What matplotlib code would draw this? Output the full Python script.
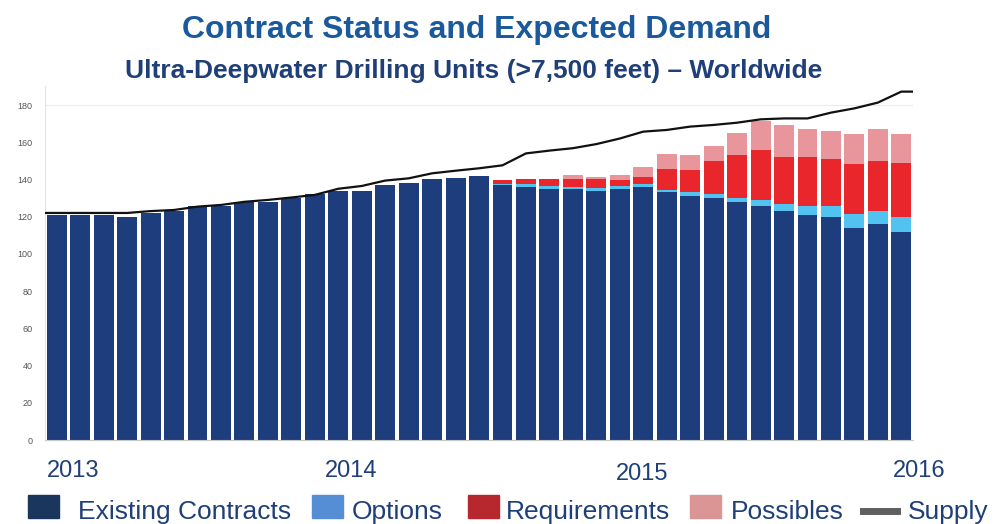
import numpy as np
import matplotlib.pyplot as plt
from matplotlib.patches import Rectangle
from matplotlib.lines import Line2D

# ── Monthly values, Jan 2013 - Jan 2016 ─────────────────────────────────
existing = [121, 121, 121, 120, 122, 123, 126, 126, 128, 128, 130, 132, 134,
            134, 137, 138, 140, 141, 142, 137, 136, 135, 135, 134, 135, 136,
            133, 131, 130, 128, 126, 123, 121, 120, 114, 116, 112]
options = [0, 0, 0, 0, 0, 0, 0, 0, 0, 0, 0, 0, 0,
           0, 0, 0, 0, 0, 0, 0.5, 1.5, 1.5, 1, 1.5, 1.5, 1.5,
           1.5, 2, 2, 2, 3, 4, 5, 5.5, 7.5, 7, 8]
requirements = [0, 0, 0, 0, 0, 0, 0, 0, 0, 0, 0, 0, 0,
                0, 0, 0, 0, 0, 0, 2, 3, 3.5, 4.5, 5, 3, 4,
                11, 12, 18, 23, 27, 25, 26, 25.5, 27, 27, 29]
possibles = [0, 0, 0, 0, 0, 0, 0, 0, 0, 0, 0, 0, 0,
             0, 0, 0, 0, 0, 0, 0, 0, 0, 2, 1, 3, 5,
             8, 8, 8, 12, 15.5, 17, 15, 15, 16, 17, 15.5]
supply = [122, 122, 122, 122, 123, 123.6, 125.4, 126.3, 128, 129, 130.3, 131.7, 135,
          136.5, 139.4, 140.6, 143.3, 144.7, 146, 147.6, 154, 155.5, 156.8, 159, 162, 165.7,
          166.6, 168.4, 169.3, 170.5, 172.3, 172.8, 172.8, 175.9, 178.2, 181.3, 187.2]

year_labels = ["2013", "2014", "2015", "2016"]
legend_labels = ["Existing Contracts", "Options", "Requirements", "Possibles", "Supply"]

# ── Colours ──────────────────────────────────────────────────────────────
C_EXIST, C_OPT, C_REQ, C_POSS = "#1d3d7c", "#52c3f0", "#e8262b", "#e8969b"
LEG_COLORS = ["#1b365d", "#558ed5", "#b7272e", "#da9594", "#5f5f5f"]
NAVY = "#1f3f78"

W, H = 1005, 524   # figure size in pixels, used for placing the free texts

plt.rcParams['font.family'] = ['Liberation Sans', 'DejaVu Sans']

fig = plt.figure(figsize=(W / 100, H / 100), dpi=100)
ax = fig.add_axes([0.0448, 0.1603, 0.8637, 0.6748])

x = np.arange(len(existing))
ex = np.array(existing, dtype=float)
op = np.array(options, dtype=float)
rq = np.array(requirements, dtype=float)
ps = np.array(possibles, dtype=float)

w = 0.85
ax.bar(x, ex, w, color=C_EXIST, zorder=2)
ax.bar(x, op, w, bottom=ex, color=C_OPT, zorder=2)
ax.bar(x, rq, w, bottom=ex + op, color=C_REQ, zorder=2)
ax.bar(x, ps, w, bottom=ex + op + rq, color=C_POSS, zorder=2)

# supply line, held flat out to the plot edges
xl = np.r_[x[0] - 0.5, x, x[-1] + 0.5]
yl = np.r_[supply[0], supply, supply[-1]]
ax.plot(xl, yl, color="#111111", lw=1.6, zorder=3)

ax.axhline(180, color="#ececec", lw=0.8, zorder=0)
ax.set_xlim(-0.5, len(existing) - 0.5)
ax.set_ylim(0, 190)
ax.set_yticks(np.arange(0, 181, 20))
ax.tick_params(axis='y', length=0, labelsize=6.5, labelcolor="#555555", pad=9)
ax.set_xticks([])
for s in ["top", "right"]:
    ax.spines[s].set_visible(False)
ax.spines["left"].set_color("#e4e4e4")
ax.spines["bottom"].set_color("#c8c8c8")

# ── Titles ──────────────────────────────────────────────────────────────
fig.text(0.474, 0.927, "Contract Status and Expected Demand", ha="center",
         va="baseline", fontsize=23, fontweight="bold", color="#1a5a9c")
fig.text(0.471, 1 - 78 / H, "Ultra-Deepwater Drilling Units (>7,500 feet) \u2013 Worldwide",
         ha="center", va="baseline", fontsize=19, fontweight="bold", color=NAVY)

# ── Year labels ─────────────────────────────────────────────────────────
year_x = [73, 351, 642, 919]
year_y = [477, 477, 480, 477]
for lab, px, py in zip(year_labels, year_x, year_y):
    fig.text(px / W, 1 - py / H, lab, ha="center", va="baseline",
             fontsize=17, color=NAVY)

# ── Legend (laid out by hand, spacing is uneven in the original) ─────────
key_x = [28, 312, 468, 690, 863]      # left edge of each key, px
text_x = [78, 352, 506, 731, 908]     # left edge of each label, px
for i, lab in enumerate(legend_labels):
    if lab == "Supply":
        fig.add_artist(Line2D([key_x[i] / W, (key_x[i] + 34) / W],
                              [1 - 510.5 / H, 1 - 510.5 / H],
                              transform=fig.transFigure, color=LEG_COLORS[i], lw=5))
    else:
        fig.add_artist(Rectangle((key_x[i] / W, 1 - 518 / H), 31 / W, 23 / H,
                                 transform=fig.transFigure, color=LEG_COLORS[i]))
    fig.text(text_x[i] / W, 1 - 519 / H, lab, ha="left", va="baseline",
             fontsize=19, color=NAVY)

fig.savefig("out.png", dpi=100, facecolor="white")
